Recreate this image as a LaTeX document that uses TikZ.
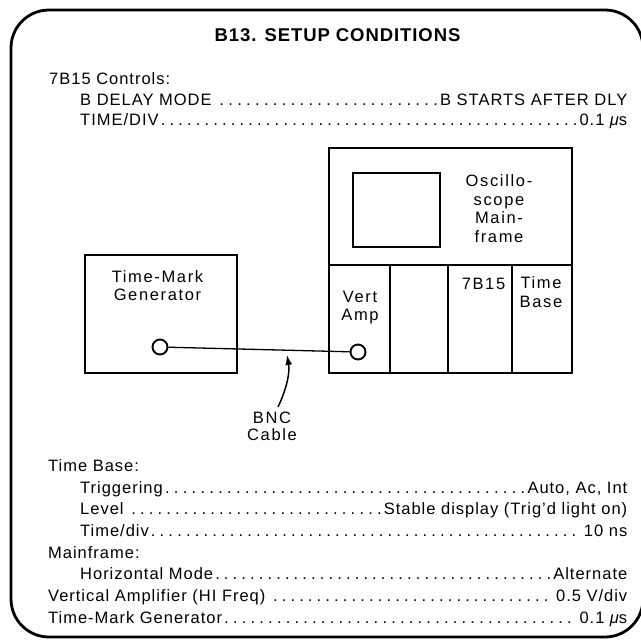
\documentclass[tikz,border=0pt]{standalone}
\usepackage{fontspec}
\setmainfont{Liberation Sans}
\newfontfamily\titlefont{Liberation Sans}[LetterSpace=5]
\newfontfamily\labelfont{Liberation Sans}[LetterSpace=10]
\newfontfamily\bodyfont{Liberation Sans}[LetterSpace=6]
\usetikzlibrary{arrows.meta}
\newcommand{\dotsB}{\xleaders\hbox to 8.7pt{\hss.\hss}\hfill}
\newcommand{\fullline}[2]{\hbox to #1pt{#2}}
\tikzset{
  frame/.style={line width=2.8pt, rounded corners=38pt},
  unitbox/.style={draw, line width=2.7pt, inner sep=0, rectangle},
  divider/.style={line width=2pt},
  jack/.style={circle, draw, line width=1.9pt, minimum size=15pt, inner sep=0},
  cable/.style={line width=1.3pt},
  lbl/.style={anchor=base, inner sep=0, font=\labelfont\fontsize{16.5}{18}\selectfont},
  body/.style={anchor=base west, inner sep=0, font=\bodyfont\fontsize{16.5}{20}\selectfont},
}
\begin{document}
\begin{tikzpicture}[x=1pt, y=-1pt]
\useasboundingbox (0,0) rectangle (641,641);
% outer frame
\draw[frame] (11,10) rectangle (643,637);
% title
\node[anchor=base, inner sep=0, font=\titlefont\bfseries\fontsize{18.5}{20}\selectfont] (title) at (337.5,41) {B13. SETUP CONDITIONS};
% top settings
\node[body] (ctl) at (49,84) {7B15 Controls:};
\node[body] (dly) at (80,105) {\fullline{547}{B DELAY MODE \dotsB B STARTS AFTER DLY}};
\node[body] (tdiv) at (80,125.5) {\fullline{547}{TIME/DIV\dotsB 0.1 {\itshape μ}s}};
% time-mark generator
\node[unitbox, minimum width=152pt, minimum height=118pt] (tmg) at (161,314) {};
\node[lbl] (tmgA) at (157.5,282) {Time-Mark};
\node[lbl] (tmgB) at (157.5,300) {Generator};
\node[jack] (tmgout) at (160,347) {};
% mainframe
\node[unitbox, minimum width=243pt, minimum height=225pt] (mf) at (450.5,260.5) {};
\draw[divider] (353,173) rectangle (440,247);
\draw[divider] (329,265) -- (572,265);
\draw[divider] (390,265) -- (390,373);
\draw[divider] (448,265) -- (448,373);
\draw[divider] (512,265) -- (512,373);
\node[lbl] (mfA) at (499,186) {Oscillo-};
\node[lbl] (mfB) at (499,205) {scope};
\node[lbl] (mfC) at (499,223) {Main-};
\node[lbl] (mfD) at (499,242) {frame};
\node[lbl] (vaA) at (360,302) {Vert};
\node[lbl] (vaB) at (360,320) {Amp};
\node[lbl] (sb) at (483.5,289) {7B15};
\node[lbl] (tbA) at (541,288) {Time};
\node[lbl] (tbB) at (541,307) {Base};
\node[jack] (vain) at (358,352) {};
% cable
\draw[cable] (tmgout) -- (vain);
\coordinate (arrtail) at (278,407);
\coordinate (arrtip) at (287,355);
\draw[line width=1.5pt, -{Latex[length=10pt,width=7pt]}] (arrtail) .. controls (287,388) and (290,372) .. (arrtip);
\node[lbl] (bncA) at (272,423) {BNC};
\node[lbl] (bncB) at (272,440) {Cable};
% bottom settings
\node[body] (tb) at (48,471) {Time Base:};
\node[body] (trg) at (80,493) {\fullline{547}{Triggering\dotsB Auto, Ac, Int}};
\node[body] (lvl) at (80,514.5) {\fullline{547}{Level \dotsB Stable display (Trig’d light on)}};
\node[body] (tdv) at (80,536) {\fullline{547}{Time/div\dotsB\ 10 ns}};
\node[body] (mfr) at (48,558) {Mainframe:};
\node[body] (hm) at (80,579.5) {\fullline{547}{Horizontal Mode\dotsB Alternate}};
\node[body] (va) at (48,601) {\fullline{579}{Vertical Amplifier (HI Freq) \dotsB\ 0.5 V/div}};
\node[body] (tm) at (48,623) {\fullline{579}{Time-Mark Generator\dotsB\ 0.1 {\itshape μ}s}};
\end{tikzpicture}
\end{document}
